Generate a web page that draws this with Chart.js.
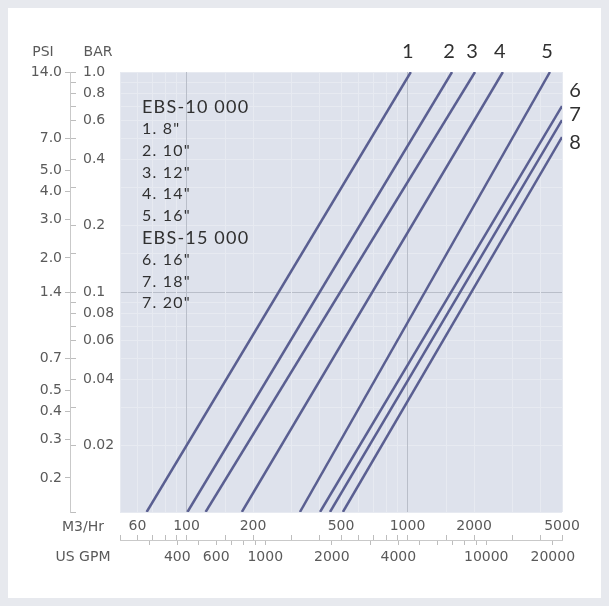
<!DOCTYPE html>
<html>
<head>
<meta charset="utf-8">
<script src="https://cdn.jsdelivr.net/npm/chart.js@4.4.1/dist/chart.umd.min.js"></script>
<style>
  html, body { margin: 0; padding: 0; width: 609px; height: 606px; overflow: hidden; background: #e7e9ee; }
  #panel { position: absolute; left: 8px; top: 8px; width: 593px; height: 590px; background: #fff; }
  #chart { position: absolute; left: 0; top: 0; }
</style>
</head>
<body>
<div id="panel"></div>
<canvas id="chart" width="609" height="606"></canvas>
<script>
// Pressure drop curves, log-log. Flow in m3/hr, pressure drop in bar.
const curveNames = ['1', '2', '3', '4', '5', '6', '7', '8'];
const flowLow  = [66, 101, 122, 178, 326, 402, 446, 510];     // m3/hr at the low end
const barLow   = [0.01, 0.01, 0.01, 0.01, 0.01, 0.01, 0.01, 0.01];
const flowHigh = [1035, 1590, 2020, 2700, 4410, 5000, 5000, 5000];
const barHigh  = [1.0, 1.0, 1.0, 1.0, 1.0, 0.70, 0.605, 0.506];

const legendLines = ['EBS-10 000', '1. 8"', '2. 10"', '3. 12"', '4. 14"', '5. 16"',
                     'EBS-15 000', '6. 16"', '7. 18"', '7. 20"'];

const m3Labels  = [60, 100, 200, 500, 1000, 2000, 5000];
const gpmLabels = [400, 600, 1000, 2000, 4000, 10000, 20000];
const gpmTicks  = [300, 400, 500, 600, 700, 800, 900, 1000, 2000, 3000, 4000, 5000,
                   6000, 7000, 8000, 9000, 10000, 20000];
const barLabels = [1, 0.8, 0.6, 0.4, 0.2, 0.1, 0.08, 0.06, 0.04, 0.02];
const psiLabels = [14, 7, 5, 4, 3, 2, 1.4, 0.7, 0.5, 0.4, 0.3, 0.2];

const FLOW_MIN = 50, FLOW_MAX = 5000;
const BAR_MIN = 0.01, BAR_MAX = 1;
const M3_TO_GPM = 4.403;
const PSI_PER_BAR = 14;

const LINE_COLOR = '#5a5f91';
const AXIS_FONT = { family: 'DejaVu Sans', size: 14 };
const AXIS_TEXT = '#5a5a5a';
const TICK_COLOR = '#bdbdbd';

function has(list, v) {
  return list.some(l => Math.abs(l - v) / l < 1e-6);
}

// decade lines inside the plot are darker, the rest are faint
function gridColor(ctx) {
  const v = ctx.tick ? ctx.tick.value : 0;
  const s = ctx.scale;
  const lg = Math.log10(v);
  const decade = Math.abs(lg - Math.round(lg)) < 1e-6;
  const inside = v > s.min * 1.0001 && v < s.max * 0.9999;
  return decade && inside ? '#b9bec9' : '#e7eaf1';
}

const datasets = curveNames.map((name, i) => ({
  label: name,
  data: [{ x: flowLow[i], y: barLow[i] }, { x: flowHigh[i], y: barHigh[i] }],
  xAxisID: 'm3', yAxisID: 'bar',
  borderColor: LINE_COLOR, borderWidth: 2.5, pointRadius: 0, tension: 0, fill: false,
}));

const decor = {
  id: 'decor',
  beforeDraw(chart) {
    const { ctx, chartArea: a } = chart;
    ctx.save();
    ctx.fillStyle = '#dee2ec';
    ctx.fillRect(a.left, a.top, a.right - a.left, a.bottom - a.top);
    ctx.restore();
  },
  afterDraw(chart) {
    const { ctx, chartArea: a, scales } = chart;
    ctx.save();
    ctx.fillStyle = AXIS_TEXT;
    ctx.font = '14px "DejaVu Sans"';
    ctx.textBaseline = 'middle';
    ctx.textAlign = 'center';
    ctx.fillText('PSI', 43, a.top - 20);
    ctx.fillText('BAR', 98, a.top - 20);
    ctx.fillText('M3/Hr', 83, scales.m3.top - 8);
    ctx.fillText('US GPM', 83, scales.gpm.top + 17);

    // series legend inside the plot
    ctx.fillStyle = '#303030';
    ctx.textAlign = 'left';
    ctx.letterSpacing = '1.2px';
    legendLines.forEach((t, i) => {
      const head = t.startsWith('EBS');
      ctx.font = head ? '18px Lato' : '16px Lato';
      ctx.fillText(t, a.left + 22, a.top + 35 + i * 21.8);
    });

    // curve numbers
    ctx.letterSpacing = '0px';
    ctx.font = '20px Lato';
    ctx.textAlign = 'center';
    const nudge = [-16, -5, 5];
    curveNames.forEach((name, i) => {
      if (barHigh[i] >= BAR_MAX) {
        ctx.fillText(name, scales.m3.getPixelForValue(flowHigh[i]) - 3, a.top - 20);
      } else {
        ctx.fillText(name, a.right + 13, scales.bar.getPixelForValue(barHigh[i]) + nudge[i - 5]);
      }
    });
    ctx.restore();
  }
};

const spacer = (pos, size) => ({
  type: 'linear', position: pos, weight: 0, display: true,
  grid: { display: false }, border: { display: false }, ticks: { display: false },
  afterFit(s) { if (pos === 'left') s.width = size; else s.height = size; },
});

new Chart(document.getElementById('chart'), {
  type: 'line',
  data: { datasets },
  options: {
    responsive: false, animation: false, devicePixelRatio: 1,
    layout: { padding: { left: 0, right: 47, top: 72, bottom: 26 } },
    plugins: { legend: { display: false }, tooltip: { enabled: false } },
    scales: {
      padY: spacer('left', 44),
      bar: {
        type: 'logarithmic', position: 'left', weight: 1,
        min: BAR_MIN, max: BAR_MAX,
        grid: { color: gridColor, tickColor: TICK_COLOR, tickLength: 6, lineWidth: 1 },
        border: { display: false },
        ticks: {
          mirror: true, padding: 7, autoSkip: false, font: AXIS_FONT, color: AXIS_TEXT,
          callback: v => has(barLabels, v) ? (v === 1 ? '1.0' : String(v)) : '',
        },
        afterFit(s) { s.width = 6; },
      },
      psi: {
        type: 'logarithmic', position: 'left', weight: 2,
        min: BAR_MIN * PSI_PER_BAR, max: BAR_MAX * PSI_PER_BAR,
        grid: { drawOnChartArea: false, tickColor: TICK_COLOR, tickLength: 5 },
        border: { display: true, color: '#c9c9c9', width: 1 },
        ticks: {
          padding: 3, autoSkip: false, font: AXIS_FONT, color: AXIS_TEXT,
          callback: v => v.toFixed(1),
        },
        afterBuildTicks(s) { s.ticks = psiLabels.map(v => ({ value: v })); },
        afterFit(s) { s.width = 70; },
      },
      padX: spacer('bottom', 23),
      m3: {
        type: 'logarithmic', position: 'bottom', weight: 1,
        min: FLOW_MIN, max: FLOW_MAX,
        grid: { color: gridColor, tickColor: TICK_COLOR, tickLength: 5, lineWidth: 1 },
        border: { display: false },
        ticks: {
          mirror: true, padding: 0, autoSkip: false, maxRotation: 0, font: AXIS_FONT, color: AXIS_TEXT,
          callback: v => has(m3Labels, v) ? String(v) : '',
        },
        afterFit(s) { s.height = 5; },
      },
      gpm: {
        type: 'logarithmic', position: 'bottom', weight: 2,
        min: FLOW_MIN * M3_TO_GPM, max: FLOW_MAX * M3_TO_GPM,
        grid: { drawOnChartArea: false, tickColor: TICK_COLOR, tickLength: 5 },
        border: { display: true, color: '#c9c9c9', width: 1 },
        ticks: {
          padding: 4, autoSkip: false, maxRotation: 0, font: AXIS_FONT, color: AXIS_TEXT,
          callback: v => has(gpmLabels, v) ? String(v) : '',
        },
        afterBuildTicks(s) { s.ticks = gpmTicks.map(v => ({ value: v })); },
        afterFit(s) { s.height = 40; },
      },
    },
  },
  plugins: [decor],
});
</script>
</body>
</html>
